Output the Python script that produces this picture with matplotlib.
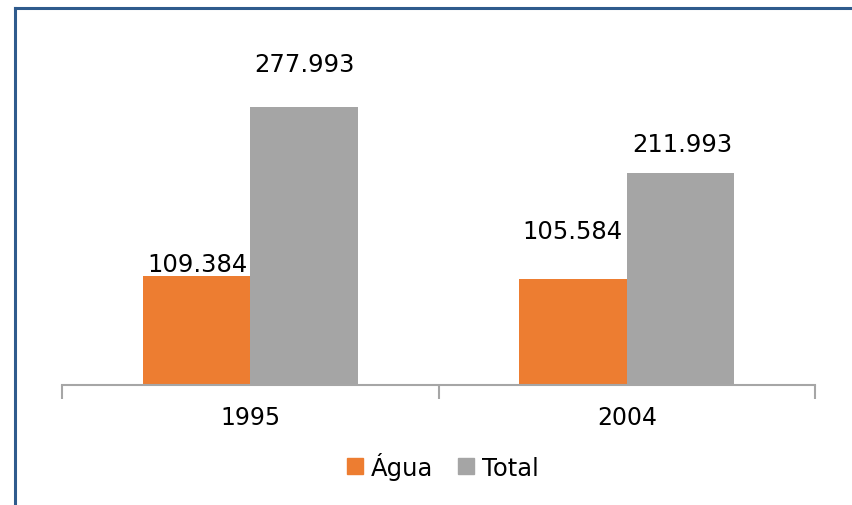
import matplotlib
matplotlib.use("Agg")
import matplotlib.pyplot as plt
from matplotlib.lines import Line2D
import numpy as np

categories = ["1995", "2004"]
agua = [109.384, 105.584]
total = [277.993, 211.993]
agua_labels = ["109.384", "105.584"]
total_labels = ["277.993", "211.993"]
series_names = ["Água", "Total"]

c_agua = "#ED7D31"
c_total = "#A5A5A5"

W, H, DPI = 852, 506, 100
fig = plt.figure(figsize=(W / DPI, H / DPI), dpi=DPI)
plt.rcParams['font.family'] = ['DejaVu Sans']

left_px, right_px, base_px, ymax = 62, 815, 386, 300
ax = fig.add_axes([left_px / W, (H - base_px) / H, (right_px - left_px) / W, ymax / H])

x = np.arange(len(categories))
bw = 107 / 375
ax.bar(x - bw / 2, agua, width=bw, color=c_agua)
ax.bar(x + bw / 2, total, width=bw, color=c_total)
ax.set_xlim(-0.5, len(categories) - 0.5)
ax.set_ylim(0, ymax)

for s in ["top", "right", "left"]:
    ax.spines[s].set_visible(False)
ax.spines["bottom"].set_color("#A6A6A6")
ax.spines["bottom"].set_linewidth(1.5)
ax.set_yticks([])
ax.set_xticks([-0.5, 0.5, 1.5], minor=False)
ax.set_xticklabels([])
ax.tick_params(axis="x", length=10, width=1.5, color="#A6A6A6", direction="out")
for xi, c in zip(x, categories):
    ax.text(xi, -32, c, ha="center", va="center", fontsize=17, color="black")

fs = 17.5
# value label positions (data units)
agua_label_pos = [(-0.14, 121), (0.855, 154)]
total_label_pos = [(0.143, 321), (1.148, 241)]
for i in range(len(categories)):
    ax.text(agua_label_pos[i][0], agua_label_pos[i][1], agua_labels[i], ha="center", va="center", fontsize=fs, clip_on=False)
    ax.text(total_label_pos[i][0], total_label_pos[i][1], total_labels[i], ha="center", va="center", fontsize=fs, clip_on=False)

handles = [Line2D([], [], marker="s", linestyle="none", markersize=11.5, color=c_agua),
           Line2D([], [], marker="s", linestyle="none", markersize=11.5, color=c_total)]
fig.legend(handles, series_names, loc="center", bbox_to_anchor=(443 / W, 1 - 467 / H), ncol=2,
           frameon=False, fontsize=fs, handlelength=0.7, handletextpad=0.3, columnspacing=1.0)

# outer frame (left and top only)
fig.add_artist(Line2D([15.5 / W, 15.5 / W], [0, 1 - 9 / H], color="#2F5B8D", linewidth=2.2, transform=fig.transFigure))
fig.add_artist(Line2D([15.5 / W, 1], [1 - 9 / H, 1 - 9 / H], color="#2F5B8D", linewidth=2.2, transform=fig.transFigure))

fig.savefig("out.png", dpi=DPI)
